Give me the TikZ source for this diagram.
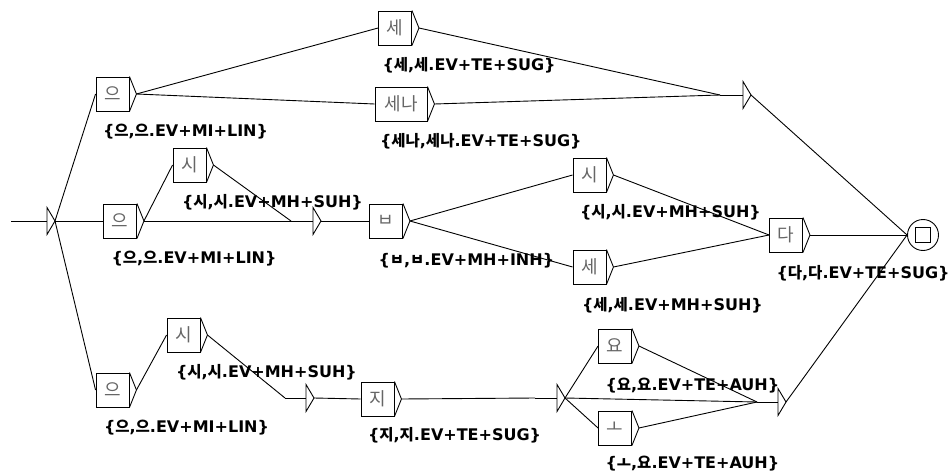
\documentclass[tikz,border=0pt]{standalone}
\usepackage{fontspec}
\setmainfont{DejaVu Sans}
\newfontfamily\krfont{Noto Sans CJK KR}
\usetikzlibrary{calc}
\newcommand{\hg}[1]{{\krfont\fontsize{15.5}{15.5}\selectfont #1}}
\newcommand{\outtri}[1]{\draw (#1.north east) -- ([xshift=7pt]#1.east) coordinate (#1-o) -- (#1.south east);}
\newcommand{\epsnode}[2]{\coordinate (#1) at #2;
  \draw ([yshift=-13.5pt]#1) -- ([xshift=8pt]#1) coordinate (#1-o) -- ([yshift=13.5pt]#1) -- cycle;}
\begin{document}
\begin{tikzpicture}[x=1pt,y=-1pt,line width=0.9pt,
  st/.style={draw,rectangle,minimum width=33pt,minimum height=34pt,inner sep=0pt,
    font=\krfont\fontsize{18}{18}\selectfont,text=black!60},
  lab/.style={anchor=west,inner sep=0pt,font=\bfseries\fontsize{16}{16}\selectfont},
  finalst/.style={draw,circle,minimum size=31pt,inner sep=0pt},
  finalsq/.style={draw,rectangle,minimum size=15pt,inner sep=0pt}]
\useasboundingbox (0,0) rectangle (949,473);

% initial state
\coordinate (start) at (11,221);
\epsnode{init}{(47,221)}
\draw (start) -- (init);

% boxes
\node[st] (o1) at (112.5,94) {으};
\node[st] (se1) at (395,28) {세};
\node[st,minimum width=52pt] (sena) at (401,104) {세나};
\node[st] (o2) at (120,221) {으};
\node[st] (si1) at (189.5,165) {시};
\node[st] (b) at (386,221) {ㅂ};
\node[st] (si2) at (589.5,175) {시};
\node[st] (se2) at (589.5,267) {세};
\node[st] (da) at (786,235) {다};
\node[st] (o3) at (112.5,390) {으};
\node[st] (si3) at (183.5,335) {시};
\node[st] (ji) at (377.5,399) {지};
\node[st] (yo) at (615,346) {요};
\node[st] (oo) at (615,428) {ㅗ};

\foreach \n in {o1,se1,sena,o2,si1,b,si2,se2,da,o3,si3,ji,yo,oo} {\outtri{\n}}

% epsilon boxes
\epsnode{e1}{(743,95)}
\epsnode{e2}{(313,221)}
\epsnode{e3}{(306,398)}
\epsnode{e4}{(557,398)}
\epsnode{e5}{(778,402)}
\coordinate (e1in) at (720,95);
\coordinate (e2in) at (291,221);
\coordinate (e3in) at (285,398);
\coordinate (e4in) at (535,398);
\coordinate (e5in) at (757,402);
\draw (e1in) -- (e1);
\draw (e2in) -- (e2);
\draw (e3in) -- (e3);
\draw (e4in) -- (e4);
\draw (e5in) -- (e5);

% final state
\node[finalst] (fin) at (923,235) {};
\node[finalsq] (finsq) at (fin.center) {};

% labels
\node[lab] (o1-l) at ([shift={(7,20)}]o1.south west) {\{\hg{으},\hg{으}.EV+MI+LIN\}};
\node[lab] (se1-l) at ([shift={(4,20)}]se1.south west) {\{\hg{세},\hg{세}.EV+TE+SUG\}};
\node[lab] (sena-l) at ([shift={(5,20)}]sena.south west) {\{\hg{세나},\hg{세나}.EV+TE+SUG\}};
\node[lab] (o2-l) at ([shift={(8,20)}]o2.south west) {\{\hg{으},\hg{으}.EV+MI+LIN\}};
\node[lab] (si1-l) at ([shift={(9,20)}]si1.south west) {\{\hg{시},\hg{시}.EV+MH+SUH\}};
\node[lab] (b-l) at ([shift={(9,22)}]b.south west) {\{\hg{ㅂ},\hg{ㅂ}.EV+MH+INH\}};
\node[lab] (si2-l) at ([shift={(7,20)}]si2.south west) {\{\hg{시},\hg{시}.EV+MH+SUH\}};
\node[lab] (se2-l) at ([shift={(9,21)}]se2.south west) {\{\hg{세},\hg{세}.EV+MH+SUH\}};
\node[lab] (da-l) at ([shift={(7,21)}]da.south west) {\{\hg{다},\hg{다}.EV+TE+SUG\}};
\node[lab] (o3-l) at ([shift={(8,20)}]o3.south west) {\{\hg{으},\hg{으}.EV+MI+LIN\}};
\node[lab] (si3-l) at ([shift={(9,20)}]si3.south west) {\{\hg{시},\hg{시}.EV+MH+SUH\}};
\node[lab] (ji-l) at ([shift={(7,19)}]ji.south west) {\{\hg{지},\hg{지}.EV+TE+SUG\}};
\node[lab] (yo-l) at ([shift={(7,22)}]yo.south west) {\{\hg{요},\hg{요}.EV+TE+AUH\}};
\node[lab] (oo-l) at ([shift={(7,18)}]oo.south west) {\{\hg{ㅗ},\hg{요}.EV+TE+AUH\}};

% transitions
\draw (init-o) -- (o1.west);
\draw (init-o) -- (o2.west);
\draw (init-o) -- (o3.west);
\draw (o1-o) -- (se1.west);
\draw (o1-o) -- (sena.west);
\draw (se1-o) -- (e1in);
\draw (sena-o) -- (e1in);
\draw (e1-o) -- (fin.west);
\draw (o2-o) -- (si1.west);
\draw (o2-o) -- (e2in);
\draw (si1-o) -- (e2in);
\draw (e2-o) -- (b.west);
\draw (b-o) -- (si2.west);
\draw (b-o) -- (se2.west);
\draw (si2-o) -- (da.west);
\draw (se2-o) -- (da.west);
\draw (da-o) -- (fin.west);
\draw (o3-o) -- (si3.west);
\draw (si3-o) -- (e3in);
\draw (e3-o) -- (ji.west);
\draw (ji-o) -- (e4in);
\draw (e4-o) -- (yo.west);
\draw (e4-o) -- (oo.west);
\draw (e4-o) -- (e5in);
\draw (yo-o) -- (e5in);
\draw (oo-o) -- (e5in);
\draw (e5-o) -- (fin.west);
\end{tikzpicture}
\end{document}
